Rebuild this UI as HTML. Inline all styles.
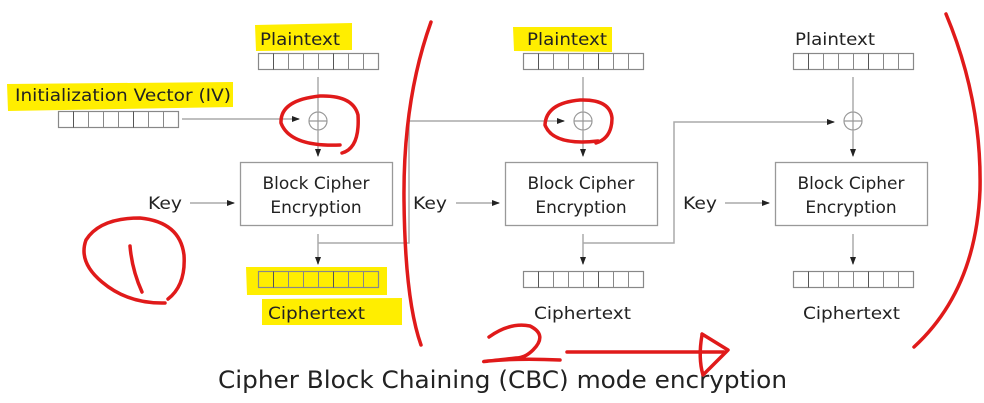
<!DOCTYPE html>
<html><head><meta charset="utf-8"><style>
html,body{margin:0;padding:0;background:#fff;}
svg{display:block;}
text{font-family:"DejaVu Sans","Liberation Sans",sans-serif;fill:#222;}
</style></head><body>
<svg width="984" height="403" viewBox="0 0 984 403" xmlns="http://www.w3.org/2000/svg">
<defs>
<g id="blk">
<rect x="0.5" y="0.5" width="120" height="16" fill="none" stroke="#888" stroke-width="1.2"/>
<path d="M15.5 0.5V16.5M30.5 0.5V16.5M45.5 0.5V16.5M60.5 0.5V16.5M75.5 0.5V16.5M90.5 0.5V16.5M105.5 0.5V16.5" stroke="#888" stroke-width="1"/>
<path d="M15.5 0.5V16.5M75.5 0.5V16.5" stroke="#555" stroke-width="1"/>
</g>
<marker id="ar" markerWidth="8" markerHeight="8" refX="7" refY="4" orient="auto" markerUnits="userSpaceOnUse">
<path d="M0 1L8 4L0 7Z" fill="#222"/>
</marker>
</defs>
<path d="M255 25L352 23L352 50L256 51Z" fill="#ffee00"/>
<path d="M7 84L233 82L233 107L8 111Z" fill="#ffee00"/>
<path d="M513 27L612 27L612 52L514 51Z" fill="#ffee00"/>
<path d="M246 267L387 267L387 295L247 295Z" fill="#ffee00"/>
<path d="M262 299L402 298L402 325L262 325Z" fill="#ffee00"/>

<text x="260" y="45" font-size="17" textLength="80" lengthAdjust="spacingAndGlyphs">Plaintext</text>
<text x="527" y="45" font-size="17" textLength="80" lengthAdjust="spacingAndGlyphs">Plaintext</text>
<text x="795" y="45" font-size="17" textLength="80" lengthAdjust="spacingAndGlyphs">Plaintext</text>
<text x="15" y="101" font-size="17" textLength="216" lengthAdjust="spacingAndGlyphs">Initialization Vector (IV)</text>
<text x="268" y="319" font-size="17" textLength="97" lengthAdjust="spacingAndGlyphs">Ciphertext</text>
<text x="534" y="319" font-size="17" textLength="97" lengthAdjust="spacingAndGlyphs">Ciphertext</text>
<text x="803" y="319" font-size="17" textLength="97" lengthAdjust="spacingAndGlyphs">Ciphertext</text>
<text x="148" y="209" font-size="17" textLength="34" lengthAdjust="spacingAndGlyphs">Key</text>
<text x="413" y="209" font-size="17" textLength="34" lengthAdjust="spacingAndGlyphs">Key</text>
<text x="683" y="209" font-size="17" textLength="34" lengthAdjust="spacingAndGlyphs">Key</text>

<use href="#blk" x="258" y="53"/>
<use href="#blk" x="523" y="53"/>
<use href="#blk" x="793" y="53"/>
<use href="#blk" x="58" y="111"/>
<use href="#blk" x="258" y="271"/>
<use href="#blk" x="523" y="271"/>
<use href="#blk" x="793" y="271"/>

<g fill="#fff" stroke="#999" stroke-width="1.3">
<rect x="240.5" y="162.5" width="152" height="63"/>
<rect x="505.5" y="162.5" width="152" height="63"/>
<rect x="775.5" y="162.5" width="152" height="63"/>
</g>
<g font-size="17" text-anchor="middle">
<text x="316" y="189">Block Cipher</text><text x="316" y="213">Encryption</text>
<text x="581" y="189">Block Cipher</text><text x="581" y="213">Encryption</text>
<text x="851" y="189">Block Cipher</text><text x="851" y="213">Encryption</text>
</g>

<g fill="none" stroke="#999" stroke-width="1.2">
<circle cx="318" cy="121" r="9"/><path d="M309 121H327M318 112V130"/>
<circle cx="583" cy="121" r="9"/><path d="M574 121H592M583 112V130"/>
<circle cx="853" cy="121" r="9"/><path d="M844 121H862M853 112V130"/>
</g>

<g fill="none" stroke="#aaa" stroke-width="1.5">
<path d="M318 77V112"/><path d="M583 77V112"/><path d="M853 77V112"/>
<path d="M182 119H299" marker-end="url(#ar)"/>
<path d="M318 130V156" marker-end="url(#ar)"/>
<path d="M583 130V156" marker-end="url(#ar)"/>
<path d="M853 130V156" marker-end="url(#ar)"/>
<path d="M190 203H234" marker-end="url(#ar)"/>
<path d="M456 203H499" marker-end="url(#ar)"/>
<path d="M725 203H769" marker-end="url(#ar)"/>
<path d="M318 234V264" marker-end="url(#ar)"/>
<path d="M583 234V264" marker-end="url(#ar)"/>
<path d="M853 234V264" marker-end="url(#ar)"/>
<path d="M318 243H409V121H564" marker-end="url(#ar)"/>
<path d="M583 243H674V122H834" marker-end="url(#ar)"/>
</g>

<text x="218" y="388" font-size="24" textLength="569" lengthAdjust="spacingAndGlyphs" fill="#333">Cipher Block Chaining (CBC) mode encryption</text>

<g fill="none" stroke="#e01a1a" stroke-width="3.5" stroke-linecap="round" stroke-linejoin="round">
<path d="M431 22Q403 100 404 200Q405 300 421 345"/>
<path d="M946 14Q982 100 980 190Q976 290 914 347"/>
<path d="M340 145Q290 147 281 123Q280 100 320 96Q353 95 358 115Q360 148 342 153"/>
<path d="M598 141Q553 146 545 125Q546 103 580 100Q610 99 612 118Q612 138 596 143"/>
<path d="M130 246Q132 270 142 292"/>
<path d="M168 299Q186 285 184 255Q180 222 140 218Q100 218 86 240Q78 262 102 282Q128 304 165 303"/>
<path d="M489 337Q510 322 530 326Q548 335 533 350Q525 358 516 358Q472 363 488 361Q520 358 560 360"/>
<path d="M567 352H724"/>
<path d="M702 335Q698 358 703 375L728 350L702 334"/>
</g>
</svg>
</body></html>
